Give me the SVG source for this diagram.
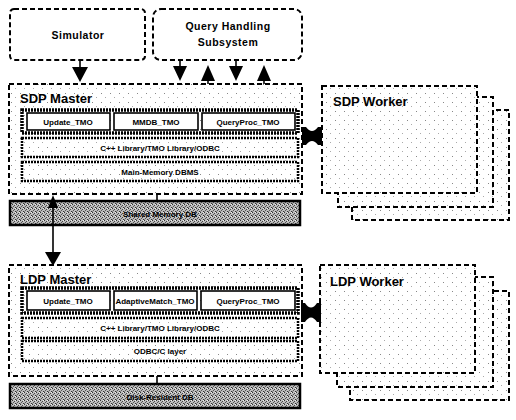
<svg xmlns="http://www.w3.org/2000/svg" width="516" height="420" viewBox="0 0 516 420">
  <defs>
    <pattern id="dots" width="9" height="9" patternUnits="userSpaceOnUse">
      <rect width="9" height="9" fill="#fff"/>
      <rect x="2" y="3" width="1" height="1" fill="#888"/>
      <rect x="6" y="7" width="1" height="1" fill="#aaa"/>
    </pattern>
    <pattern id="grain" width="4" height="4" patternUnits="userSpaceOnUse">
      <rect width="4" height="4" fill="#bdbdbd"/>
      <rect x="0" y="0" width="1" height="1" fill="#333"/>
      <rect x="2" y="1" width="1" height="1" fill="#444"/>
      <rect x="1" y="2" width="1" height="1" fill="#555"/>
      <rect x="3" y="3" width="1" height="1" fill="#333"/>
      <rect x="3" y="0" width="1" height="1" fill="#eee"/>
      <rect x="0" y="3" width="1" height="1" fill="#888"/>
    </pattern>
  </defs>
  <style>
    text { font-family: "Liberation Sans", Arial, sans-serif; font-weight: bold; fill: #000; }
    .dash { fill: url(#dots); stroke: #000; stroke-width: 2; stroke-dasharray: 5 3; }
    .plain { fill: #fff; stroke: #000; stroke-width: 2; stroke-dasharray: 5 3; }
    .frame { fill: none; stroke: #000; stroke-width: 3.5; stroke-dasharray: 2 1; }
    .cell { fill: #fff; stroke: #000; stroke-width: 1.6; }
    .layer { fill: url(#dots); stroke: #000; stroke-width: 2.5; stroke-dasharray: 2 1; }
    .bar { fill: url(#grain); stroke: #000; stroke-width: 2.5; }
    .lbl { font-size: 8px; text-anchor: middle; }
    .title { font-size: 13px; }
    .wire { stroke: #000; stroke-width: 1.6; fill: none; }
    .head { fill: #000; }
  </style>

  <!-- upper sources -->
  <g id="simulator">
    <rect class="plain" x="10" y="9" width="135" height="51" rx="4"/>
    <text x="78" y="39" font-size="10.5" text-anchor="middle" letter-spacing="0.5">Simulator</text>
  </g>
  <g id="query-handling">
    <rect class="plain" x="153" y="9" width="149" height="51" rx="8"/>
    <text x="228" y="30" font-size="10.5" text-anchor="middle" letter-spacing="0.5">Query Handling</text>
    <text x="228" y="46" font-size="10.5" text-anchor="middle" letter-spacing="0.5">Subsystem</text>
  </g>

  <!-- SDP master -->
  <g id="sdp-master">
    <rect class="dash" x="9" y="84" width="293" height="110"/>
    <text class="title" x="20" y="103">SDP Master</text>
    <rect class="frame" x="22" y="110" width="276" height="23"/>
    <rect class="cell" x="27" y="113" width="83" height="17"/>
    <rect class="cell" x="114" y="113" width="84" height="17"/>
    <rect class="cell" x="202" y="113" width="93" height="17"/>
    <text class="lbl" x="68" y="125">Update_TMO</text>
    <text class="lbl" x="156" y="125">MMDB_TMO</text>
    <text class="lbl" x="248" y="125">QueryProc_TMO</text>
    <rect class="layer" x="22" y="138" width="276" height="19"/>
    <text class="lbl" x="160" y="151">C++ Library/TMO Library/ODBC</text>
    <rect class="layer" x="22" y="162" width="276" height="19"/>
    <text class="lbl" x="160" y="175">Main-Memory DBMS</text>
  </g>
  <g id="sdp-db">
    <rect class="bar" x="10" y="201" width="290" height="24"/>
    <text class="lbl" x="160" y="217" fill="#111">Shared Memory DB</text>
  </g>

  <!-- SDP workers -->
  <g id="sdp-worker">
    <rect class="dash" x="352" y="110" width="157" height="110"/>
    <rect class="dash" x="338" y="97" width="155" height="110"/>
    <rect class="dash" x="322" y="86" width="155" height="107"/>
    <text class="title" x="333" y="106">SDP Worker</text>
  </g>

  <!-- LDP master -->
  <g id="ldp-master">
    <rect class="dash" x="9" y="265" width="293" height="111"/>
    <text class="title" x="20" y="284">LDP Master</text>
    <rect class="frame" x="22" y="288" width="276" height="25"/>
    <rect class="cell" x="27" y="291" width="83" height="19"/>
    <rect class="cell" x="114" y="291" width="83" height="19"/>
    <rect class="cell" x="201" y="291" width="94" height="19"/>
    <text class="lbl" x="68" y="304">Update_TMO</text>
    <text class="lbl" x="155" y="304">AdaptiveMatch_TMO</text>
    <text class="lbl" x="248" y="304">QueryProc_TMO</text>
    <rect class="layer" x="22" y="318" width="276" height="20"/>
    <text class="lbl" x="160" y="331">C++ Library/TMO Library/ODBC</text>
    <rect class="layer" x="22" y="341" width="276" height="20"/>
    <text class="lbl" x="160" y="354">ODBC/C layer</text>
  </g>
  <g id="ldp-db">
    <rect class="bar" x="10" y="384" width="290" height="24"/>
    <text class="lbl" x="160" y="400" fill="#111">Disk-Resident DB</text>
  </g>

  <!-- LDP workers -->
  <g id="ldp-worker">
    <rect class="dash" x="350" y="291" width="159" height="109"/>
    <rect class="dash" x="337" y="277" width="156" height="110"/>
    <rect class="dash" x="320" y="265" width="155" height="108"/>
    <text class="title" x="330" y="286">LDP Worker</text>
  </g>

  <!-- connectors -->
  <g id="connectors">
    <!-- simulator to SDP master -->
    <line class="wire" x1="80" y1="60" x2="80" y2="70"/>
    <polygon class="head" points="72,67 88,67 80,82"/>
    <!-- query handling exchanges -->
    <line class="wire" x1="180" y1="60" x2="180" y2="68"/>
    <polygon class="head" points="173,66 187,66 180,81"/>
    <polygon class="head" points="201,81 215,81 208,65"/>
    <line class="wire" x1="208" y1="80" x2="208" y2="84"/>
    <line class="wire" x1="236" y1="60" x2="236" y2="68"/>
    <polygon class="head" points="229,66 243,66 236,81"/>
    <polygon class="head" points="257,81 271,81 264,65"/>
    <line class="wire" x1="264" y1="80" x2="264" y2="84"/>
    <!-- master to its database -->
    <line class="wire" x1="157" y1="194" x2="157" y2="201"/>
    <line class="wire" x1="157" y1="376" x2="157" y2="384"/>
    <!-- SDP database to LDP master -->
    <line class="wire" x1="53" y1="200" x2="53" y2="258"/>
    <polygon class="head" points="48,208 58,208 53,195"/>
    <polygon class="head" points="45,252 61,252 53,266"/>
    <!-- master / worker links -->
    <path class="head" d="M302,127 L306,127 Q312,135 318,127 L322,127 L322,145 L318,145 Q312,137 306,145 L302,145 Z"/>
    <path class="head" d="M301,303 L305,303 Q311,312 317,303 L321,303 L321,322 L317,322 Q311,313 305,322 L301,322 Z"/>
  </g>
</svg>
